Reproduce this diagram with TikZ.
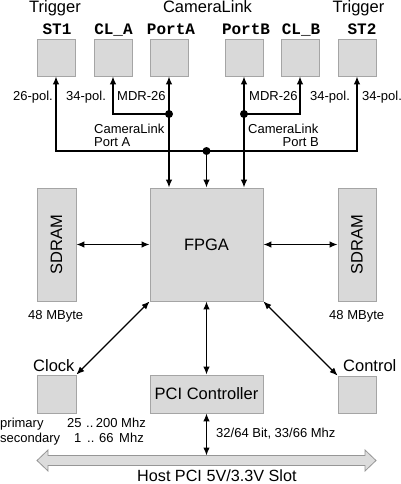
\documentclass[tikz,border=0pt]{standalone}
\usepackage{fontspec}
\setmainfont{Liberation Sans}
\setmonofont{Liberation Mono}
\usetikzlibrary{arrows.meta}
\definecolor{boxfill}{RGB}{217,217,217}
\definecolor{boxline}{RGB}{165,165,165}
\definecolor{busfill}{RGB}{220,220,220}
\definecolor{busline}{RGB}{150,150,150}
\begin{document}
\begin{tikzpicture}[x=1pt,y=-1pt,
  box/.style={draw=boxline, fill=boxfill, line width=0.8pt, inner sep=0pt,
              minimum width=38pt, minimum height=37pt},
  conn/.style={line width=1.3pt, -{Latex[length=8pt,width=6.5pt]}},
  both/.style={line width=1.3pt, {Latex[length=8pt,width=6.5pt]}-{Latex[length=8pt,width=6.5pt]}},
  dotc/.style={circle, fill=black, inner sep=0pt, minimum size=8pt},
  lab/.style={font=\fontsize{13}{15}\selectfont, inner sep=0pt},
  big/.style={font=\fontsize{16.5}{19}\selectfont, inner sep=0pt},
  mono/.style={font=\fontsize{16}{18}\selectfont\ttfamily\bfseries, inner sep=0pt},
  busst/.style={draw=busline, fill=busfill, line width=0.8pt}]
\useasboundingbox (0,0) rectangle (401,484);

% top connector boxes
\node[box] (st1) at (56,57.5) {};
\node[box] (cla) at (113,57.5) {};
\node[box] (pa)  at (169,57.5) {};
\node[box] (pb)  at (244,57.5) {};
\node[box] (clb) at (300,57.5) {};
\node[box] (st2) at (357,57.5) {};

% main blocks
\node[box, minimum width=113pt, minimum height=113pt] (fpga) at (206.5,244.5) {};
\node[big] (fpgat) at (fpga.center) {FPGA};
\node[box, minimum width=39pt, minimum height=113pt] (sdl) at (56.5,244.5) {};
\node[box, minimum width=38pt, minimum height=113pt] (sdr) at (357,244.5) {};
\node[big, rotate=90] (sdlt) at (sdl.center) {SDRAM};
\node[big, rotate=90] (sdrt) at (sdr.center) {SDRAM};
\node[box, minimum width=39pt, minimum height=38pt] (clk) at (56.5,394) {};
\node[box, minimum width=113pt, minimum height=38pt] (pci) at (206.5,394) {};
\node[big] (pcit) at (pci.center) {PCI Controller};
\node[box] (ctl) at (357,394.5) {};

% bus
\draw[busst] (37,460.5) -- (48,450) -- (48,455.5) -- (365,455.5) -- (365,450)
  -- (376,460.5) -- (365,471) -- (365,465.5) -- (48,465.5) -- (48,471) -- cycle;
\coordinate (bustop) at (206.5,455.5);

% junctions
\node[dotc] (dA) at (169,114) {};
\node[dotc] (dB) at (244,114) {};
\node[dotc] (dM) at (206.5,151) {};

% connectors
\draw[both] (fpga.north -| pa.south) -- (pa.south);
\draw[both] (fpga.north -| pb.south) -- (pb.south);
\draw[conn] (dA.center) -| (cla.south);
\draw[conn] (dB.center) -| (clb.south);
\draw[conn] (dM.center) -| (st1.south);
\draw[conn] (dM.center) -| (st2.south);
\draw[conn] (dM.center) -- (fpga.north);
\draw[both] (sdl.east) -- (fpga.west);
\draw[both] (fpga.east) -- (sdr.west);
\draw[both] (fpga.south west) -- (clk.north east);
\draw[both] (fpga.south east) -- (ctl.north west);
\draw[both] (fpga.south) -- (pci.north);
\draw[both] (pci.south) -- (bustop);

% titles
\node[big, anchor=base] (t1) at (55,13) {Trigger};
\node[big, anchor=base] (t2) at (207.5,13) {CameraLink};
\node[big, anchor=base] (t3) at (358.5,13) {Trigger};
\node[mono, anchor=base] (m1) at (57,34.5) {ST1};
\node[mono, anchor=base] (m2) at (113.5,34.5) {CL\_A};
\node[mono, anchor=base] (m3) at (171,34.5) {PortA};
\node[mono, anchor=base] (m4) at (246,34.5) {PortB};
\node[mono, anchor=base] (m5) at (301,34.5) {CL\_B};
\node[mono, anchor=base] (m6) at (362,34.5) {ST2};

% small labels
\node[lab, anchor=base east] (l1) at (53,101) {26-pol.};
\node[lab, anchor=base west] (l2) at (66,101) {34-pol.};
\node[lab, anchor=base west] (l3) at (117,101) {MDR-26};
\node[lab, anchor=base west] (l4) at (249,101) {MDR-26};
\node[lab, anchor=base west] (l5) at (310,101) {34-pol.};
\node[lab, anchor=base west] (l6) at (362,101) {34-pol.};
\node[lab, anchor=base west] (c1) at (94,133) {CameraLink};
\node[lab, anchor=base west] (c2) at (94,146.5) {Port A};
\node[lab, anchor=base west] (c3) at (248,133) {CameraLink};
\node[lab, anchor=base east] (c4) at (319,146.5) {Port B};
\node[lab, anchor=base west] (mb1) at (28,319.5) {48 MByte};
\node[lab, anchor=base west] (mb2) at (329,319.5) {48 MByte};
\node[big, anchor=base west] (ck) at (33,371) {Clock};
\node[big, anchor=base west] (ct) at (343,371) {Control};
\node[lab, anchor=base west] (p1) at (0,427) {primary};
\node[lab, anchor=base west] (p2) at (67,427) {25};
\node[lab, anchor=base west] (p3) at (86,427) {..};
\node[lab, anchor=base east] (p4) at (146,427) {200 Mhz};
\node[lab, anchor=base west] (s1) at (0,442) {secondary};
\node[lab, anchor=base west] (s2) at (74,442) {1};
\node[lab, anchor=base west] (s3) at (87,442) {..};
\node[lab, anchor=base west] (s4) at (99,442) {66};
\node[lab, anchor=base east] (s5) at (144,442) {Mhz};
\node[lab, anchor=base west] (bw) at (216,437) {32/64 Bit, 33/66 Mhz};
\node[font=\fontsize{16.2}{19}\selectfont, inner sep=0pt, anchor=base west] (host) at (137,481.5) {Host PCI 5V/3.3V Slot};
\end{tikzpicture}
\end{document}
